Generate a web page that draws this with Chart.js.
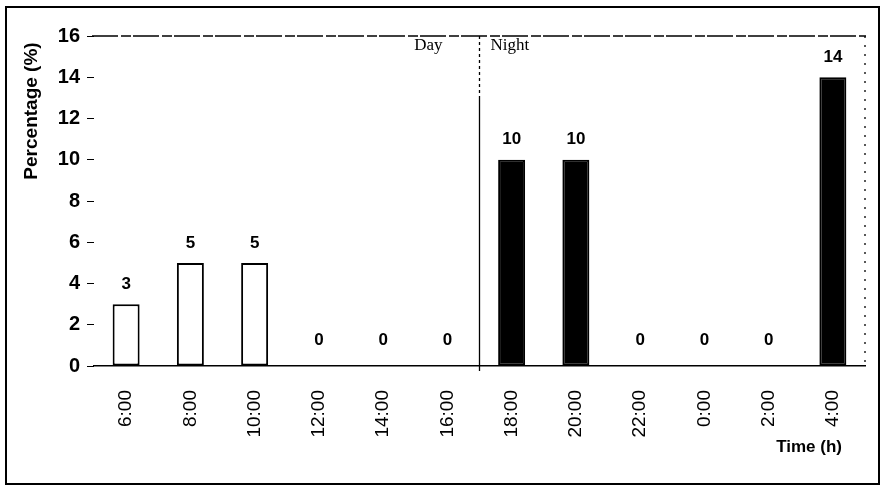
<!DOCTYPE html>
<html>
<head>
<meta charset="utf-8">
<script src="https://cdn.jsdelivr.net/npm/chart.js@4/dist/chart.umd.min.js"></script>
<style>
  html, body { margin: 0; padding: 0; background: #fff; }
  #wrap { width: 883px; height: 487px; }
</style>
</head>
<body>
<div id="wrap"><canvas id="bar-chart" width="883" height="487"></canvas></div>
<script>
// data
var times = ["6:00", "8:00", "10:00", "12:00", "14:00", "16:00", "18:00", "20:00", "22:00", "0:00", "2:00", "4:00"];
var percent = [3, 5, 5, 0, 0, 0, 10, 10, 0, 0, 0, 14];
var isNight = [false, false, false, false, false, false, true, true, true, true, true, true];
var yTicks = [0, 2, 4, 6, 8, 10, 12, 14, 16];

var fills = isNight.map(function (n) { return n ? "#000" : "#fff"; });

// frame, day/night divider, value labels and titles
var extras = {
    id: "extras",
    afterDraw: function (chart) {
        var ctx = chart.ctx;
        var area = chart.chartArea;
        var x = chart.scales.x, y = chart.scales.y;
        ctx.save();

        // outer frame
        ctx.strokeStyle = "#000";
        ctx.lineWidth = 2;
        ctx.strokeRect(6, 7, 873, 477);

        // top dashed edge and right dotted edge of the plot
        ctx.lineWidth = 1.3;
        ctx.setLineDash([26, 3, 10, 2]);
        ctx.beginPath();
        ctx.moveTo(area.left - 2, area.top);
        ctx.lineTo(area.right + 1, area.top);
        ctx.stroke();
        ctx.setLineDash([2, 7]);
        ctx.beginPath();
        ctx.moveTo(area.right, area.top);
        ctx.lineTo(area.right, area.bottom);
        ctx.stroke();

        // divider between 16:00 and 18:00
        var dx = (x.getPixelForValue(5) + x.getPixelForValue(6)) / 2;
        ctx.setLineDash([3, 3]);
        ctx.beginPath();
        ctx.moveTo(dx, area.top);
        ctx.lineTo(dx, area.top + 60);
        ctx.stroke();
        ctx.setLineDash([]);
        ctx.beginPath();
        ctx.moveTo(dx, area.top + 60);
        ctx.lineTo(dx, area.bottom + 5);
        ctx.stroke();

        ctx.fillStyle = "#000";
        ctx.font = "17px 'Liberation Serif', 'Times New Roman', serif";
        ctx.textBaseline = "middle";
        ctx.textAlign = "right";
        ctx.fillText("Day", dx - 37, area.top + 10);
        ctx.textAlign = "left";
        ctx.fillText("Night", dx + 11, area.top + 10);

        // value labels
        ctx.font = "bold 17px 'Liberation Sans', Arial, sans-serif";
        ctx.textAlign = "center";
        percent.forEach(function (v, i) {
            var off = v === 0 ? 26 : 20;
            ctx.fillText(String(v), x.getPixelForValue(i), y.getPixelForValue(v) - off);
        });

        // axis titles
        ctx.font = "bold 17px 'Liberation Sans', Arial, sans-serif";
        ctx.textAlign = "right";
        ctx.fillText("Time (h)", 842, 447);

        ctx.translate(32, 111);
        ctx.rotate(-Math.PI / 2);
        ctx.textAlign = "center";
        ctx.font = "bold 19px 'Liberation Sans', Arial, sans-serif";
        ctx.fillText("Percentage (%)", 0, 0);
        ctx.restore();
    }
};

new Chart(document.getElementById("bar-chart"), {
    type: 'bar',
    data: {
        labels: times,
        datasets: [
            {
                label: "Percentage",
                backgroundColor: fills,
                borderColor: "#000",
                borderWidth: 2,
                borderSkipped: false,
                data: percent,
                categoryPercentage: 1,
                barPercentage: 0.42
            }
        ]
    },
    options: {
        responsive: false,
        animation: false,
        layout: { padding: { top: 36, right: 18, left: 0, bottom: 0 } },
        plugins: {
            legend: { display: false },
            tooltip: { enabled: false }
        },
        scales: {
            x: {
                grid: { display: false },
                border: { display: true, color: "#000", width: 1.5 },
                ticks: {
                    color: "#000",
                    font: { family: "'Liberation Sans', Arial, sans-serif", size: 19 },
                    minRotation: 90,
                    maxRotation: 90,
                    padding: 16
                },
                afterFit: function (s) { s.height = 121; }
            },
            y: {
                min: 0,
                max: 16,
                afterBuildTicks: function (s) {
                    s.ticks = yTicks.map(function (v) { return { value: v }; });
                },
                grid: { drawOnChartArea: false, color: "#000", tickLength: 7, lineWidth: 1 },
                border: { display: false },
                ticks: {
                    color: "#000",
                    font: { family: "'Liberation Sans', Arial, sans-serif", size: 20, weight: "bold" },
                    padding: 7
                },
                afterFit: function (s) { s.width = 94; }
            }
        }
    },
    plugins: [extras]
});
</script>
</body>
</html>
